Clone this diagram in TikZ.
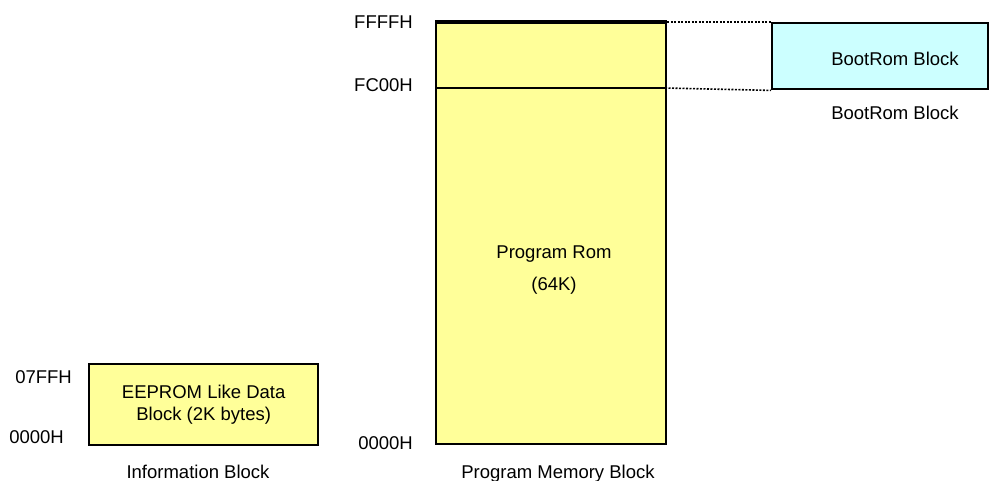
\documentclass[tikz,border=0pt]{standalone}
\usepackage{fontspec}
\setmainfont{Liberation Sans}
\usepackage{tikz}
\definecolor{romyellow}{HTML}{FFFF99}
\definecolor{bootcyan}{HTML}{CCFFFF}

\begin{document}
\begin{tikzpicture}[x=1pt,y=-1pt,font=\fontsize{18.5}{22}\selectfont]
    \tikzstyle{block}=[draw,line width=2.4pt,inner sep=0pt,anchor=north west]
    \tikzstyle{addr}=[anchor=base east,inner sep=0pt]
    \tikzstyle{label}=[anchor=base,inner sep=0pt]
    \tikzstyle{link}=[line width=1.6pt,dash pattern=on 2pt off 1.5pt]
    \useasboundingbox (0,0) rectangle (989,480);

    % Blocks
    \node[block,fill=romyellow,minimum width=229pt,minimum height=81pt] (info) at (88,363) {};
    \node[block,fill=romyellow,minimum width=230pt,minimum height=421pt] (prog) at (435,22) {};
    \node[block,fill=bootcyan,minimum width=216pt,minimum height=66pt] (boot) at (771,22) {};
    \draw[line width=4.5pt] (prog.north west) -- (prog.north east);
    \coordinate (fcl) at (435,88);
    \coordinate (fcr) at (665,88);
    \draw[line width=2.4pt] (fcl) -- (fcr);

    % Texts in blocks
    \node[align=center,inner sep=0pt] (infotext) at (info.center) {EEPROM Like Data\\Block (2K bytes)};
    \node[label] (romtext) at (554,258) {Program Rom};
    \node[label] (romsize) at (554,290) {(64K)};
    \node[label] (boottext) at (895,65) {BootRom Block};

    % Addresses
    \node[addr] (a07ff) at (72,383) {07FFH};
    \node[addr] (a0000i) at (64,443) {0000H};
    \node[addr] (affff) at (413,28) {FFFFH};
    \node[addr] (afc00) at (413,91) {FC00H};
    \node[addr] (a0000p) at (413,449) {0000H};

    % Captions
    \node[label] (infocap) at (198,478) {Information Block};
    \node[label] (progcap) at (558,478) {Program Memory Block};
    \node[label] (bootcap) at (895,119) {BootRom Block};

    % Dotted links
    \draw[link] (prog.north east) -- (boot.north west);
    \draw[link] (fcr) -- (boot.south west);
\end{tikzpicture}
\end{document}
